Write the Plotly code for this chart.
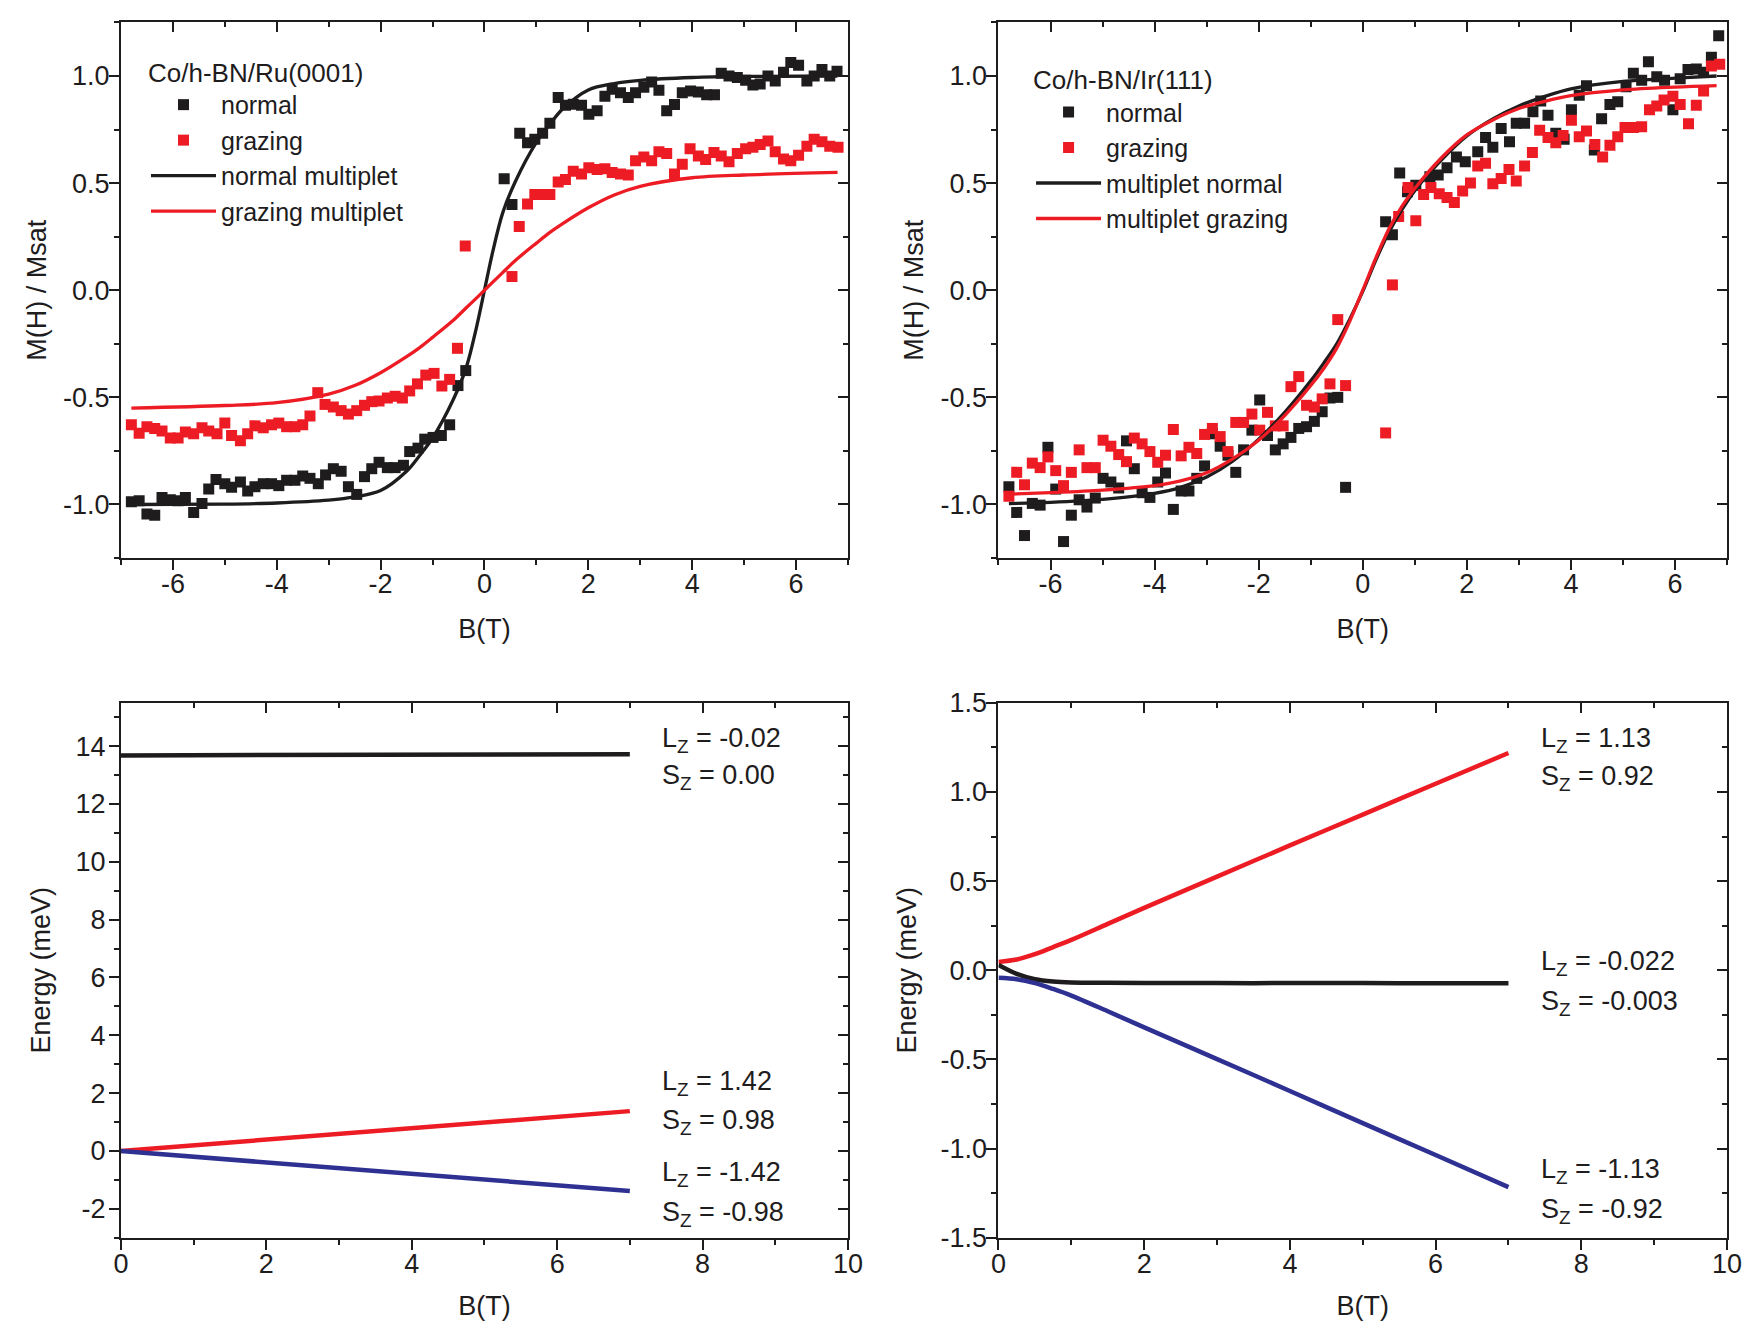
import plotly.graph_objects as go

# ---------------- data ----------------
# Top-left: Co/h-BN/Ru(0001)
B_RU_NORMAL = [-6.8, -6.65, -6.5, -6.35, -6.21, -6.05, -5.9, -5.76, -5.6, -5.44,
               -5.31, -5.17, -5.0, -4.87, -4.7, -4.56, -4.42, -4.26, -4.1, -3.96,
               -3.81, -3.65, -3.5, -3.36, -3.2, -3.06, -2.91, -2.76, -2.62, -2.46,
               -2.31, -2.17, -2.03, -1.87, -1.72, -1.56, -1.44, -1.28, -1.15, -0.99,
               -0.83, -0.67, -0.51, -0.36,
               0.38, 0.53, 0.68, 0.83, 0.97, 1.12, 1.26, 1.42, 1.56, 1.71,
               1.87, 2.01, 2.17, 2.32, 2.46, 2.62, 2.77, 2.91, 3.07, 3.22,
               3.36, 3.51, 3.66, 3.81, 3.97, 4.12, 4.28, 4.43, 4.56, 4.71,
               4.87, 5.03, 5.17, 5.31, 5.46, 5.6, 5.76, 5.9, 6.05, 6.21,
               6.35, 6.5, 6.65, 6.79]
M_RU_NORMAL = [-0.987, -0.983, -1.045, -1.05, -0.967, -0.978, -0.983, -0.967, -1.037, -0.995,
               -0.928, -0.883, -0.903, -0.92, -0.895, -0.937, -0.917, -0.903, -0.903, -0.912,
               -0.887, -0.887, -0.867, -0.878, -0.903, -0.862, -0.833, -0.845, -0.917, -0.953,
               -0.87, -0.833, -0.803, -0.828, -0.828, -0.817, -0.753, -0.737, -0.695, -0.687,
               -0.678, -0.628, -0.445, -0.375,
               0.52, 0.40, 0.733, 0.688, 0.705, 0.733, 0.78, 0.9, 0.863, 0.868,
               0.863, 0.822, 0.838, 0.905, 0.938, 0.922, 0.9, 0.922, 0.947, 0.972,
               0.933, 0.838, 0.867, 0.922, 0.93, 0.925, 0.913, 0.913, 1.013, 1.0,
               0.993, 0.98, 0.958, 0.963, 1.0, 0.977, 1.017, 1.063, 1.05, 0.977,
               1.0, 1.03, 1.0, 1.022]
B_RU_GRAZING = [-6.8, -6.65, -6.5, -6.35, -6.21, -6.05, -5.9, -5.76, -5.6, -5.44,
                -5.31, -5.15, -5.0, -4.87, -4.7, -4.56, -4.42, -4.26, -4.1, -3.96,
                -3.81, -3.65, -3.5, -3.36, -3.21, -3.07, -2.91, -2.76, -2.62, -2.46,
                -2.31, -2.17, -2.03, -1.87, -1.72, -1.58, -1.44, -1.29, -1.13, -0.97,
                -0.82, -0.67, -0.52, -0.37,
                0.53, 0.67, 0.83, 0.97, 1.12, 1.26, 1.42, 1.56, 1.71, 1.87,
                2.01, 2.17, 2.32, 2.46, 2.62, 2.77, 2.91, 3.07, 3.22, 3.36,
                3.51, 3.66, 3.81, 3.96, 4.12, 4.26, 4.42, 4.56, 4.71, 4.87,
                5.03, 5.17, 5.31, 5.46, 5.6, 5.76, 5.9, 6.05, 6.21, 6.35,
                6.5, 6.65, 6.81]
M_RU_GRAZING = [-0.628, -0.667, -0.637, -0.645, -0.657, -0.69, -0.69, -0.662, -0.67, -0.642,
                -0.657, -0.67, -0.62, -0.678, -0.703, -0.67, -0.633, -0.642, -0.628, -0.62,
                -0.637, -0.637, -0.628, -0.587, -0.478, -0.533, -0.545, -0.562, -0.578, -0.562,
                -0.537, -0.52, -0.517, -0.503, -0.495, -0.503, -0.47, -0.437, -0.396, -0.388,
                -0.447, -0.416, -0.271, 0.207,
                0.064, 0.297, 0.403, 0.447, 0.447, 0.447, 0.505, 0.517, 0.555, 0.543,
                0.572, 0.563, 0.567, 0.55, 0.543, 0.538, 0.605, 0.622, 0.605, 0.647,
                0.638, 0.543, 0.588, 0.66, 0.627, 0.61, 0.643, 0.627, 0.6, 0.638,
                0.66, 0.667, 0.68, 0.697, 0.647, 0.613, 0.605, 0.63, 0.672, 0.705,
                0.693, 0.672, 0.668]
B_RU_CURVE = [-6.8, -5.0, -4.0, -3.0, -2.5, -2.0, -1.5, -1.26, -1.0, -0.6, -0.35, -0.16, 0.0,
              0.16, 0.35, 0.6, 1.0, 1.26, 1.5, 2.0, 2.5, 3.0, 4.0, 5.0, 6.8]
M_RU_NORMAL_MULT = [-1.0, -0.998, -0.993, -0.98, -0.965, -0.935, -0.845, -0.775, -0.69, -0.51, -0.36, -0.18, 0.0,
                    0.18, 0.36, 0.51, 0.69, 0.775, 0.845, 0.935, 0.965, 0.98, 0.993, 0.998, 1.0]
M_RU_GRAZING_MULT = [-0.55, -0.538, -0.525, -0.485, -0.445, -0.385, -0.31, -0.27, -0.22, -0.14, -0.082, -0.038, 0.0,
                     0.038, 0.082, 0.14, 0.22, 0.27, 0.31, 0.385, 0.445, 0.485, 0.525, 0.538, 0.55]

# Top-right: Co/h-BN/Ir(111)
B_IR_NEG = [-6.8, -6.65, -6.5, -6.35, -6.2, -6.05, -5.9, -5.75, -5.6, -5.45,
            -5.3, -5.14, -4.99, -4.84, -4.69, -4.54, -4.39, -4.24, -4.09, -3.94,
            -3.79, -3.64, -3.49, -3.34, -3.19, -3.04, -2.89, -2.74, -2.59, -2.44,
            -2.29, -2.13, -1.98, -1.83, -1.68, -1.53, -1.38, -1.23, -1.08, -0.93,
            -0.78, -0.63, -0.48, -0.33]
M_IR_NORMAL_NEG = [-0.917, -1.037, -1.145, -0.995, -1.003, -0.733, -0.928, -1.173, -1.05, -0.978,
                   -1.012, -0.97, -0.878, -0.895, -0.923, -0.703, -0.833, -0.945, -0.967, -0.895,
                   -0.853, -1.023, -0.937, -0.937, -0.878, -0.82, -0.67, -0.728, -0.77, -0.85,
                   -0.745, -0.653, -0.512, -0.678, -0.745, -0.717, -0.687, -0.645, -0.637, -0.612,
                   -0.567, -0.503, -0.5, -0.92]
M_IR_GRAZING_NEG = [-0.962, -0.85, -0.908, -0.807, -0.828, -0.778, -0.842, -0.912, -0.85, -0.745,
                    -0.828, -0.828, -0.7, -0.728, -0.767, -0.8, -0.69, -0.717, -0.753, -0.803,
                    -0.77, -0.65, -0.773, -0.733, -0.762, -0.673, -0.645, -0.683, -0.753, -0.617,
                    -0.617, -0.578, -0.653, -0.57, -0.633, -0.633, -0.45, -0.403, -0.537, -0.545,
                    -0.507, -0.437, -0.137, -0.445]
B_IR_NORMAL_POS = [0.44, 0.57, 0.71, 0.86, 1.02, 1.29, 1.45, 1.62, 1.8, 1.97,
                   2.21, 2.36, 2.5, 2.66, 2.82, 2.95, 3.11, 3.27, 3.42, 3.56,
                   3.71, 3.87, 4.01, 4.16, 4.3, 4.45, 4.59, 4.75, 4.9, 5.06,
                   5.2, 5.36, 5.49, 5.65, 5.8, 5.96, 6.1, 6.25, 6.41, 6.55,
                   6.7, 6.84]
M_IR_NORMAL_POS = [0.32, 0.259, 0.547, 0.46, 0.49, 0.53, 0.538, 0.572, 0.622, 0.6,
                   0.647, 0.713, 0.667, 0.755, 0.693, 0.78, 0.78, 0.833, 0.883, 0.817,
                   0.733, 0.705, 0.843, 0.91, 0.955, 0.655, 0.8, 0.867, 0.88, 0.95,
                   1.013, 0.98, 1.067, 0.997, 0.98, 0.843, 0.987, 1.03, 1.033, 1.017,
                   1.088, 1.188]
B_IR_GRAZING_POS = [0.44, 0.57, 0.69, 0.87, 1.02, 1.17, 1.31, 1.47, 1.62, 1.76,
                    1.92, 2.07, 2.21, 2.36, 2.5, 2.66, 2.81, 2.95, 3.11, 3.26,
                    3.4, 3.56, 3.71, 3.85, 4.01, 4.16, 4.3, 4.46, 4.61, 4.75,
                    4.9, 5.04, 5.2, 5.36, 5.51, 5.65, 5.79, 5.96, 6.1, 6.26,
                    6.41, 6.55, 6.7, 6.86]
M_IR_GRAZING_POS = [-0.666, 0.025, 0.344, 0.48, 0.324, 0.447, 0.48, 0.45, 0.433, 0.41,
                    0.463, 0.5, 0.58, 0.593, 0.497, 0.522, 0.563, 0.51, 0.58, 0.643,
                    0.747, 0.713, 0.688, 0.722, 0.793, 0.717, 0.743, 0.68, 0.622, 0.677,
                    0.717, 0.76, 0.76, 0.763, 0.843, 0.86, 0.888, 0.905, 0.867, 0.777,
                    0.863, 0.93, 1.047, 1.055]
B_IR_CURVE = [-6.8, -6.0, -5.0, -4.0, -3.5, -3.0, -2.5, -2.0, -1.5, -1.0, -0.75, -0.5, -0.25, 0.0,
              0.25, 0.5, 0.75, 1.0, 1.5, 2.0, 2.5, 3.0, 3.5, 4.0, 5.0, 6.0, 6.8]
M_IR_NORMAL_MULT = [-0.996, -0.99, -0.976, -0.948, -0.92, -0.872, -0.798, -0.695, -0.57, -0.423, -0.34,
                    -0.25, -0.135, -0.005,
                    0.14, 0.27, 0.375, 0.465, 0.605, 0.72, 0.80, 0.86, 0.905, 0.94, 0.975, 0.99, 1.0]
M_IR_GRAZING_MULT = [-0.952, -0.945, -0.933, -0.912, -0.89, -0.852, -0.787, -0.70, -0.585, -0.445, -0.365,
                     -0.27, -0.145, 0.0,
                     0.15, 0.285, 0.39, 0.475, 0.615, 0.725, 0.795, 0.848, 0.882, 0.908, 0.935, 0.948, 0.955]

# Bottom-left: energy levels (Ru)
B_RU_LEVELS = [0.0, 3.5, 7.0]
E_RU_UPPER = [13.68, 13.70, 13.72]
E_RU_PLUS = [0.0, 0.69, 1.38]
E_RU_MINUS = [0.0, -0.69, -1.38]
RU_LABELS = ["L<sub>Z</sub> = -0.02", "S<sub>Z</sub> = 0.00",
             "L<sub>Z</sub> = 1.42", "S<sub>Z</sub> = 0.98",
             "L<sub>Z</sub> = -1.42", "S<sub>Z</sub> = -0.98"]
RU_LABEL_Y = [14.22, 12.93, 2.35, 0.99, -0.80, -2.17]

# Bottom-right: energy levels (Ir)
B_IR_LEVELS = [0.0, 0.25, 0.5, 0.75, 1.0, 1.5, 2.0, 3.0, 4.0, 5.0, 6.0, 7.0]
E_IR_PLUS = [0.047, 0.06, 0.09, 0.13, 0.17, 0.26, 0.35, 0.525, 0.70, 0.873, 1.046, 1.218]
E_IR_MID = [0.03, -0.02, -0.05, -0.063, -0.068, -0.07, -0.071, -0.072, -0.072, -0.072, -0.073, -0.073]
E_IR_MINUS = [-0.042, -0.05, -0.072, -0.105, -0.142, -0.23, -0.32, -0.498, -0.677, -0.857, -1.036, -1.216]
IR_LABELS = ["L<sub>Z</sub> = 1.13", "S<sub>Z</sub> = 0.92",
             "L<sub>Z</sub> = -0.022", "S<sub>Z</sub> = -0.003",
             "L<sub>Z</sub> = -1.13", "S<sub>Z</sub> = -0.92"]
IR_LABEL_Y = [1.29, 1.08, 0.04, -0.186, -1.127, -1.348]
LABEL_X = 7.42

# ticks
TOP_X_TICKS = [-6, -4, -2, 0, 2, 4, 6]
TOP_X_TEXT = ["-6", "-4", "-2", "0", "2", "4", "6"]
TOP_X_MINOR = [-7, -5, -3, -1, 1, 3, 5, 7]
TOP_Y_TICKS = [-1.0, -0.5, 0.0, 0.5, 1.0]
TOP_Y_TEXT = ["-1.0", "-0.5", "0.0", "0.5", "1.0"]
TOP_Y_MINOR = [-1.25, -0.75, -0.25, 0.25, 0.75, 1.25]
BOT_X_TICKS = [0, 2, 4, 6, 8, 10]
BOT_X_TEXT = ["0", "2", "4", "6", "8", "10"]
BOT_X_MINOR = [1, 3, 5, 7, 9]
BL_Y_TICKS = [-2, 0, 2, 4, 6, 8, 10, 12, 14]
BL_Y_TEXT = ["-2", "0", "2", "4", "6", "8", "10", "12", "14"]
BL_Y_MINOR = [-3, -1, 1, 3, 5, 7, 9, 11, 13, 15]
BR_Y_TICKS = [-1.5, -1.0, -0.5, 0.0, 0.5, 1.0, 1.5]
BR_Y_TEXT = ["-1.5", "-1.0", "-0.5", "0.0", "0.5", "1.0", "1.5"]
BR_Y_MINOR = [-1.25, -0.75, -0.25, 0.25, 0.75, 1.25]

# ---------------- style ----------------
BLACK = "#1e1c1d"
RED = "#ed1c24"
BLUE = "#2e3192"
FONT = "Liberation Sans, Arial, Helvetica, sans-serif"
FS = 27
FS_LEG = 25

DOM_X_L = [0.0687, 0.4815]
DOM_X_R = [0.5670, 0.9807]
DOM_Y_T = [0.5823, 0.9832]
DOM_Y_B = [0.0735, 0.4740]

fig = go.Figure()


def marker_trace(x, y, color, name, xa, ya, legend):
    return go.Scatter(x=x, y=y, mode="markers", name=name, xaxis=xa, yaxis=ya,
                      legend=legend,
                      marker=dict(symbol="square", size=11, color=color, line=dict(width=0)))


def line_trace(x, y, color, name, xa, ya, legend=None, width=3.3, show=True, shape="spline"):
    kw = dict(x=x, y=y, mode="lines", name=name, xaxis=xa, yaxis=ya,
              line=dict(color=color, width=width, shape=shape, smoothing=0.9),
              showlegend=show)
    if legend:
        kw["legend"] = legend
    return go.Scatter(**kw)


# top-left
fig.add_trace(marker_trace(B_RU_NORMAL, M_RU_NORMAL, BLACK, "normal", "x", "y", "legend"))
fig.add_trace(marker_trace(B_RU_GRAZING, M_RU_GRAZING, RED, "grazing", "x", "y", "legend"))
fig.add_trace(line_trace(B_RU_CURVE, M_RU_NORMAL_MULT, BLACK, "normal multiplet", "x", "y", "legend"))
fig.add_trace(line_trace(B_RU_CURVE, M_RU_GRAZING_MULT, RED, "grazing multiplet", "x", "y", "legend"))

# top-right
fig.add_trace(marker_trace(B_IR_NEG + B_IR_NORMAL_POS, M_IR_NORMAL_NEG + M_IR_NORMAL_POS,
                           BLACK, "normal", "x2", "y2", "legend2"))
fig.add_trace(marker_trace(B_IR_NEG + B_IR_GRAZING_POS, M_IR_GRAZING_NEG + M_IR_GRAZING_POS,
                           RED, "grazing", "x2", "y2", "legend2"))
fig.add_trace(line_trace(B_IR_CURVE, M_IR_NORMAL_MULT, BLACK, "multiplet normal", "x2", "y2", "legend2"))
fig.add_trace(line_trace(B_IR_CURVE, M_IR_GRAZING_MULT, RED, "multiplet grazing", "x2", "y2", "legend2"))

# bottom-left
fig.add_trace(line_trace(B_RU_LEVELS, E_RU_UPPER, BLACK, "upper", "x3", "y3", width=4.5, show=False, shape="linear"))
fig.add_trace(line_trace(B_RU_LEVELS, E_RU_PLUS, RED, "plus", "x3", "y3", width=4.5, show=False, shape="linear"))
fig.add_trace(line_trace(B_RU_LEVELS, E_RU_MINUS, BLUE, "minus", "x3", "y3", width=4.5, show=False, shape="linear"))

# bottom-right
fig.add_trace(line_trace(B_IR_LEVELS, E_IR_PLUS, RED, "plus", "x4", "y4", width=4.5, show=False))
fig.add_trace(line_trace(B_IR_LEVELS, E_IR_MID, BLACK, "mid", "x4", "y4", width=4.5, show=False))
fig.add_trace(line_trace(B_IR_LEVELS, E_IR_MINUS, BLUE, "minus", "x4", "y4", width=4.5, show=False))

# empty traces to activate mirror (inside-tick) axes
for i in range(5, 9):
    fig.add_trace(go.Scatter(x=[], y=[], xaxis=f"x{i}", yaxis=f"y{i}", showlegend=False,
                             hoverinfo="skip"))


def main_axis(domain, anchor, rng, tickvals, ticktext, minor, title, standoff, labelshift):
    return dict(domain=domain, anchor=anchor, range=rng, tickmode="array",
                tickvals=tickvals, ticktext=ticktext, ticks="outside", ticklen=10,
                tickwidth=2, tickcolor=BLACK, ticklabelstandoff=labelshift,
                minor=dict(tickmode="array", tickvals=minor, ticks="outside", ticklen=5,
                           tickwidth=2, tickcolor=BLACK),
                showline=True, linewidth=2, linecolor=BLACK, mirror=True,
                showgrid=False, zeroline=False, automargin=False,
                tickfont=dict(family=FONT, size=FS, color=BLACK),
                title=dict(text=title, standoff=standoff, font=dict(family=FONT, size=FS, color=BLACK)))


def mirror_axis(domain, anchor, overlay, side, rng, tickvals, minor):
    return dict(domain=domain, anchor=anchor, overlaying=overlay, side=side, range=rng,
                tickmode="array", tickvals=tickvals, ticks="inside", ticklen=10,
                tickwidth=2, tickcolor=BLACK, showticklabels=False,
                minor=dict(tickmode="array", tickvals=minor, ticks="inside", ticklen=5,
                           tickwidth=2, tickcolor=BLACK),
                showline=False, showgrid=False, zeroline=False, automargin=False)


TOP_X_RANGE = [-7, 7]
TOP_Y_RANGE = [-1.25, 1.25]
BOT_X_RANGE = [0, 10]
BL_Y_RANGE = [-3, 15.5]
BR_Y_RANGE = [-1.5, 1.5]

layout = dict(
    width=1761, height=1336,
    margin=dict(l=0, r=0, t=0, b=0),
    paper_bgcolor="white", plot_bgcolor="white",
    font=dict(family=FONT, size=FS, color=BLACK),
    xaxis=main_axis(DOM_X_L, "y", TOP_X_RANGE, TOP_X_TICKS, TOP_X_TEXT, TOP_X_MINOR, "B(T)", 21, -9),
    yaxis=main_axis(DOM_Y_T, "x", TOP_Y_RANGE, TOP_Y_TICKS, TOP_Y_TEXT, TOP_Y_MINOR, "M(H) / Msat", 9, -6),
    xaxis2=main_axis(DOM_X_R, "y2", TOP_X_RANGE, TOP_X_TICKS, TOP_X_TEXT, TOP_X_MINOR, "B(T)", 21, -9),
    yaxis2=main_axis(DOM_Y_T, "x2", TOP_Y_RANGE, TOP_Y_TICKS, TOP_Y_TEXT, TOP_Y_MINOR, "M(H) / Msat", 9, -6),
    xaxis3=main_axis(DOM_X_L, "y3", BOT_X_RANGE, BOT_X_TICKS, BOT_X_TEXT, BOT_X_MINOR, "B(T)", 18, -9),
    yaxis3=main_axis(DOM_Y_B, "x3", BL_Y_RANGE, BL_Y_TICKS, BL_Y_TEXT, BL_Y_MINOR, "Energy (meV)", 17, -2),
    xaxis4=main_axis(DOM_X_R, "y4", BOT_X_RANGE, BOT_X_TICKS, BOT_X_TEXT, BOT_X_MINOR, "B(T)", 18, -9),
    yaxis4=main_axis(DOM_Y_B, "x4", BR_Y_RANGE, BR_Y_TICKS, BR_Y_TEXT, BR_Y_MINOR, "Energy (meV)", 16, -6),
    xaxis5=mirror_axis(DOM_X_L, "y", "x", "top", TOP_X_RANGE, TOP_X_TICKS, TOP_X_MINOR),
    yaxis5=mirror_axis(DOM_Y_T, "x", "y", "right", TOP_Y_RANGE, TOP_Y_TICKS, TOP_Y_MINOR),
    xaxis6=mirror_axis(DOM_X_R, "y2", "x2", "top", TOP_X_RANGE, TOP_X_TICKS, TOP_X_MINOR),
    yaxis6=mirror_axis(DOM_Y_T, "x2", "y2", "right", TOP_Y_RANGE, TOP_Y_TICKS, TOP_Y_MINOR),
    xaxis7=mirror_axis(DOM_X_L, "y3", "x3", "top", BOT_X_RANGE, BOT_X_TICKS, BOT_X_MINOR),
    yaxis7=mirror_axis(DOM_Y_B, "x3", "y3", "right", BL_Y_RANGE, BL_Y_TICKS, BL_Y_MINOR),
    xaxis8=mirror_axis(DOM_X_R, "y4", "x4", "top", BOT_X_RANGE, BOT_X_TICKS, BOT_X_MINOR),
    yaxis8=mirror_axis(DOM_Y_B, "x4", "y4", "right", BR_Y_RANGE, BR_Y_TICKS, BR_Y_MINOR),
    legend=dict(x=0.0829, y=0.9640, xanchor="left", yanchor="top", bgcolor="rgba(0,0,0,0)",
                borderwidth=0, font=dict(family=FONT, size=FS_LEG, color=BLACK),
                title=dict(text="Co/h-BN/Ru(0001)", font=dict(family=FONT, size=FS_LEG + 1, color=BLACK)),
                tracegroupgap=0, itemwidth=65),
    legend2=dict(x=0.5855, y=0.9585, xanchor="left", yanchor="top", bgcolor="rgba(0,0,0,0)",
                 borderwidth=0, font=dict(family=FONT, size=FS_LEG, color=BLACK),
                 title=dict(text="Co/h-BN/Ir(111)", font=dict(family=FONT, size=FS_LEG + 1, color=BLACK)),
                 tracegroupgap=0, itemwidth=65),
    showlegend=True,
)
fig.update_layout(**layout)

for txt, yy in zip(RU_LABELS, RU_LABEL_Y):
    fig.add_annotation(x=LABEL_X, y=yy, xref="x3", yref="y3", text=txt, showarrow=False,
                       xanchor="left", yanchor="middle",
                       font=dict(family=FONT, size=FS, color=BLACK))
for txt, yy in zip(IR_LABELS, IR_LABEL_Y):
    fig.add_annotation(x=LABEL_X, y=yy, xref="x4", yref="y4", text=txt, showarrow=False,
                       xanchor="left", yanchor="middle",
                       font=dict(family=FONT, size=FS, color=BLACK))

fig.write_html("out.html")
